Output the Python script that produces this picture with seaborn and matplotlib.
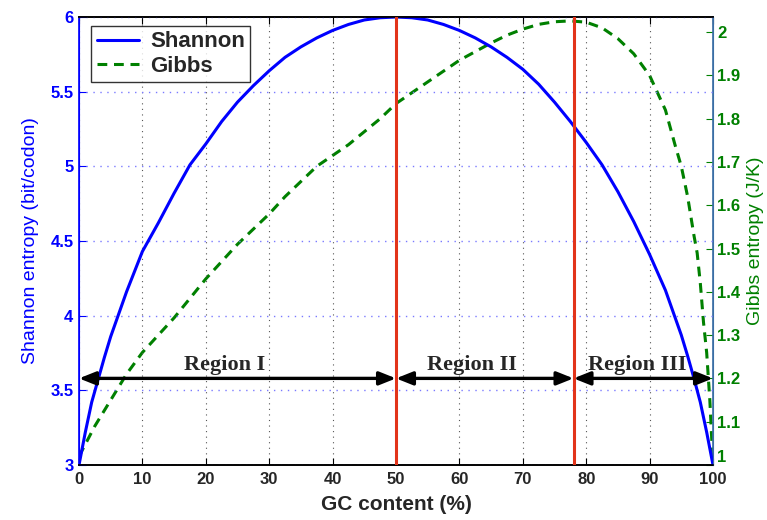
import numpy as np
import pandas as pd
import matplotlib
matplotlib.use("Agg")
import matplotlib.pyplot as plt
import seaborn as sns

# ---- data ----
shannon_x = [0, 1, 2, 3, 4, 5, 7.5, 10, 12.5, 15, 17.5, 20, 22.5, 25, 27.5, 30, 32.5, 35,
             37.5, 40, 42.5, 45, 47.5, 50, 52.5, 55, 57.5, 60, 62.5, 65, 67.5, 70, 72.5,
             75, 77.5, 80, 82.5, 85, 87.5, 90, 92.5, 95, 96, 97, 98, 99, 100]
shannon_y = [3.00, 3.22, 3.42, 3.57, 3.72, 3.86, 4.16, 4.43, 4.62, 4.82, 5.01, 5.15, 5.30,
             5.43, 5.54, 5.64, 5.73, 5.80, 5.86, 5.91, 5.95, 5.98, 5.995, 6.00, 5.995, 5.98,
             5.95, 5.91, 5.86, 5.80, 5.73, 5.65, 5.55, 5.43, 5.30, 5.16, 5.01, 4.83, 4.63,
             4.41, 4.17, 3.87, 3.73, 3.58, 3.42, 3.22, 3.00]

gibbs_x = [0, 2.5, 5, 7.5, 10, 12.5, 15, 17.5, 20, 22.5, 25, 27.5, 30, 32.5, 35, 37.5, 40,
           42.5, 45, 47.5, 50, 52.5, 55, 57.5, 60, 62.5, 65, 67.5, 70, 72.5, 75, 77.5, 80,
           82.5, 85, 87.5, 90, 92.5, 94, 95, 96, 97, 97.5, 98, 98.5, 99, 99.5, 100]
gibbs_y = [1.02, 1.09, 1.15, 1.21, 1.26, 1.30, 1.34, 1.385, 1.43, 1.47, 1.51, 1.545, 1.58,
           1.62, 1.655, 1.69, 1.715, 1.74, 1.77, 1.80, 1.835, 1.86, 1.885, 1.91, 1.935,
           1.955, 1.975, 1.993, 2.007, 2.018, 2.024, 2.026, 2.023, 2.01, 1.985, 1.95, 1.90,
           1.82, 1.74, 1.69, 1.62, 1.53, 1.49, 1.42, 1.33, 1.26, 1.15, 1.00]

boundaries = [0, 50, 78, 100]
region_labels = ["Region I", "Region II", "Region III"]
region_label_x = [23, 62, 88]
x_ticks = [0, 10, 20, 30, 40, 50, 60, 70, 80, 90, 100]
left_ticks = [3, 3.5, 4, 4.5, 5, 5.5, 6]
right_ticks = [1, 1.1, 1.2, 1.3, 1.4, 1.5, 1.6, 1.7, 1.8, 1.9, 2]
arrow_level = 3.58

BLUE = "#0000ff"
GREEN = "#008000"
RED = "#e2341a"

sns.set_style("white")
plt.rcParams["font.family"] = ["Liberation Sans", "DejaVu Sans"]

fig = plt.figure(figsize=(7.67, 5.2), dpi=100)
ax = fig.add_axes([79 / 767, 55 / 520, 634 / 767, 448 / 520])
ax2 = ax.twinx()

df_s = pd.DataFrame({"x": shannon_x, "y": shannon_y})
df_g = pd.DataFrame({"x": gibbs_x, "y": gibbs_y})

sns.lineplot(data=df_s, x="x", y="y", ax=ax, color=BLUE, lw=2.2, label="Shannon",
             legend=False)
sns.lineplot(data=df_g, x="x", y="y", ax=ax2, color=GREEN, lw=2.2, label="Gibbs",
             legend=False)
ax2.lines[0].set_dashes([3.2, 2.2])

ax.set_xlim(0, 100)
ax.set_ylim(3, 6)
ax2.set_ylim(1, 2.035)

TICKFONT = 12
ax.set_xticks(x_ticks)
ax.set_xticklabels([str(t) for t in x_ticks], fontsize=TICKFONT, fontweight="bold")
ax.set_yticks(left_ticks)
ax.set_yticklabels([f"{t:g}" for t in left_ticks], fontsize=TICKFONT, fontweight="bold",
                   color=BLUE)
ax2.set_yticks(right_ticks)
ax2.set_yticklabels([f"{t:g}" for t in right_ticks], fontsize=TICKFONT, fontweight="bold",
                    color=GREEN)

ax.tick_params(axis="x", direction="in", length=5, top=True, bottom=True, pad=5,
               color="black")
ax.tick_params(axis="y", direction="in", length=5, colors=BLUE, pad=4)
ax2.tick_params(axis="y", direction="in", length=5, colors=GREEN, pad=3)
for lab in ax.get_yticklabels():
    lab.set_color(BLUE)
for lab in ax2.get_yticklabels():
    lab.set_color(GREEN)
# lift the lowest right-hand label slightly, as in the reference
ax2.get_yticklabels()[0].set_va("bottom")

# grid
ax.xaxis.grid(True, linestyle=(0, (1, 4)), color="#555555", lw=0.8)
ax.yaxis.grid(True, linestyle=(0, (1, 4)), color="#7a7aff", lw=1.0)
ax.set_axisbelow(True)

for sp in ["top", "bottom"]:
    for a in (ax, ax2):
        a.spines[sp].set_color("black")
        a.spines[sp].set_linewidth(1.2)
ax.spines["left"].set_color(BLUE)
ax2.spines["left"].set_color(BLUE)
ax2.spines["right"].set_color("#3a6ea5")
ax.spines["right"].set_color("#3a6ea5")
for sp in ax2.spines.values():
    sp.set_linewidth(1.2)

ax.set_xlabel("GC content (%)", fontsize=15, fontweight="bold", labelpad=6)
ax.set_ylabel("Shannon entropy (bit/codon)", fontsize=14, color=BLUE, labelpad=8)
ax2.set_ylabel("Gibbs entropy (J/K)", fontsize=14, color=GREEN, labelpad=5)

# vertical region boundaries
for b in boundaries[1:-1]:
    ax.axvline(b, color=RED, lw=2.2, zorder=5)

# arrows and region labels
for i, lab in enumerate(region_labels):
    x0, x1 = boundaries[i], boundaries[i + 1]
    ax.annotate("", xy=(x1, arrow_level), xytext=(x0, arrow_level),
                arrowprops=dict(arrowstyle="<|-|>,head_length=1.0,head_width=0.4",
                                color="black", lw=2.4, shrinkA=0, shrinkB=0),
                zorder=6, annotation_clip=False)
    ax.text(region_label_x[i], arrow_level + 0.02, lab, ha="center", va="bottom",
            fontsize=16, fontweight="bold", family=["Liberation Serif", "DejaVu Serif"],
            zorder=7)

# legend
handles = [ax.lines[0], ax2.lines[0]]
leg = ax.legend(handles, ["Shannon", "Gibbs"], loc="upper left",
                bbox_to_anchor=(0.012, 0.99), prop=dict(size=16, weight="bold"),
                frameon=True, fancybox=False, edgecolor="black", handlelength=1.9,
                borderpad=0.25, labelspacing=0.15, handletextpad=0.5, borderaxespad=0.2)
leg.get_frame().set_linewidth(1.0)
leg.set_zorder(10)
ax.set_zorder(ax2.get_zorder() + 1)
ax.patch.set_visible(False)

fig.savefig("out.png", dpi=100)
